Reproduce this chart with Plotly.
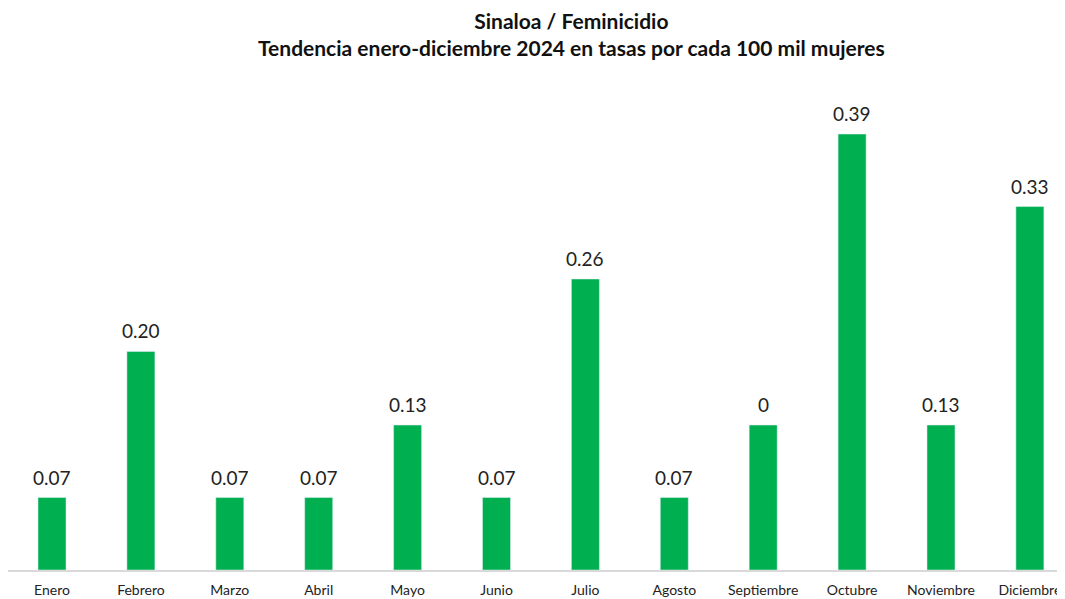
import plotly.graph_objects as go

months = ["Enero", "Febrero", "Marzo", "Abril", "Mayo", "Junio", "Julio",
          "Agosto", "Septiembre", "Octubre", "Noviembre", "Diciembre"]
values = [0.065, 0.196, 0.065, 0.065, 0.13, 0.065, 0.261, 0.065, 0.13, 0.391, 0.13, 0.326]
labels = ["0.07", "0.20", "0.07", "0.07", "0.13", "0.07", "0.26", "0.07", "0", "0.39", "0.13", "0.33"]

title1 = "Sinaloa / Feminicidio"
title2 = "Tendencia enero-diciembre 2024 en tasas por cada 100 mil mujeres"

fig = go.Figure(go.Bar(
    x=months, y=values,
    marker=dict(color="#00b050"), cliponaxis=False,
))

W, H = 1057, 591
T, B = 72, 29
ph = H - T - B

annotations = [
    dict(x=m, y=v, text=t, xref="x", yref="y", yanchor="bottom", yshift=7,
         showarrow=False, font=dict(family="Lato", size=19, color="#222222"))
    for m, v, t in zip(months, values, labels)
]
annotations.append(
    dict(text="<b>" + title1 + "</b><br><b>" + title2 + "</b>",
         x=563 / W, y=(H - B + 2) / ph, xref="paper", yref="paper",
         xanchor="center", yanchor="top", align="center", showarrow=False,
         font=dict(family="Lato", size=21, color="#111111"))
)

fig.update_layout(
    width=W, height=H,
    margin=dict(l=0, r=0, t=T, b=B),
    paper_bgcolor="white", plot_bgcolor="white",
    bargap=0.685,
    showlegend=False,
    xaxis=dict(
        range=[-0.495, 11.395], showline=True, linecolor="#d9d9d9", linewidth=1.5,
        ticks="", automargin=False, ticklabelstandoff=6,
        tickfont=dict(family="Lato", size=14, color="#222222"),
    ),
    yaxis=dict(range=[0, 0.4395], visible=False, showgrid=False),
    annotations=annotations,
)

fig.write_html("out.html")
